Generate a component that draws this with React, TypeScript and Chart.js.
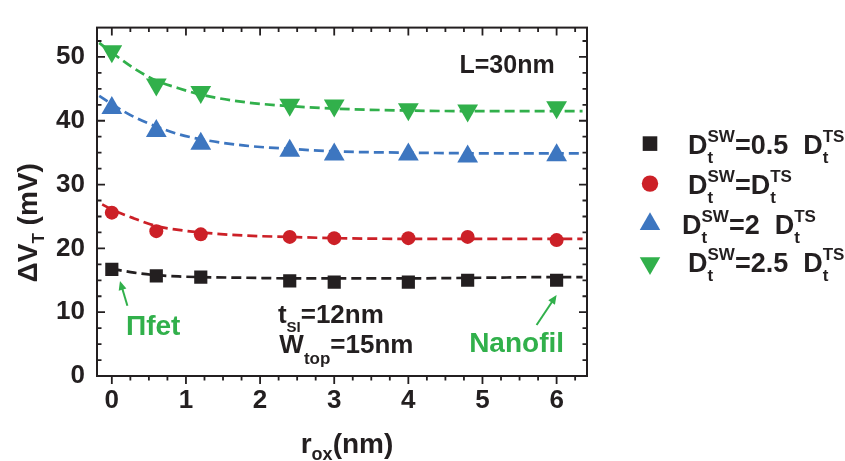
import { useEffect, useRef } from "react";
import { Chart, registerables } from "chart.js";

Chart.register(...registerables);

// ---------- data ----------
const rox = [0, 0.6, 1.2, 2.4, 3, 4, 4.8, 6];
const dvt05 = [16.7, 15.7, 15.5, 14.9, 14.7, 14.7, 15.0, 15.0];
const dvt1 = [25.6, 22.7, 22.2, 21.8, 21.6, 21.6, 21.8, 21.3];
const dvt2 = [42.0, 38.4, 36.4, 35.3, 34.7, 34.7, 34.4, 34.6];
const dvt25 = [50.9, 45.7, 44.5, 42.5, 42.4, 41.8, 41.6, 42.1];

// fitted (dashed) curves
const fitX05 = [0, 0.3, 0.6, 0.9, 1.2, 1.8, 2.4, 3, 4, 5, 6, 6.35];
const fitY05 = [16.8, 16.2, 15.8, 15.6, 15.5, 15.4, 15.3, 15.3, 15.3, 15.4, 15.5, 15.5];
const fitX1 = [-0.13, 0, 0.3, 0.6, 0.9, 1.2, 1.8, 2.4, 3, 4, 5, 6, 6.35];
const fitY1 = [26.9, 26.1, 24.7, 23.5, 22.9, 22.5, 22.0, 21.8, 21.6, 21.5, 21.5, 21.5, 21.5];
const fitX2 = [-0.17, 0, 0.3, 0.6, 0.9, 1.2, 1.8, 2.4, 3, 4, 5, 6, 6.35];
const fitY2 = [43.9, 42.6, 40.6, 39.1, 37.9, 37.1, 36.1, 35.6, 35.2, 35.0, 34.9, 34.9, 34.9];
const fitX25 = [-0.17, 0, 0.3, 0.6, 0.9, 1.2, 1.8, 2.4, 3, 4, 5, 6, 6.35];
const fitY25 = [52.2, 50.7, 48.2, 46.3, 45.1, 44.1, 42.9, 42.3, 41.9, 41.6, 41.5, 41.5, 41.5];

// axis ranges / tick steps
const X_MIN = -0.2;
const X_MAX = 6.41;
const Y_MIN = 0;
const Y_MAX = 54.6;
const X_STEP = 1;
const Y_STEP = 10;
const X_MINOR = 0.25;
const Y_MINOR = 2.5;

// legend label middle parts
const legendValues = ["=0.5  ", "=", "=2  ", "=2.5  "];

// ---------- styles ----------
const FONT = '"Liberation Sans", Arial, Helvetica, sans-serif';
const INK = "#231f20";
const BLACK = "#231f20";
const RED = "#cc2027";
const BLUE = "#3d76c0";
const GREEN = "#31b04b";

const zip = (xs: number[], ys: number[]) => xs.map((x, i) => ({ x, y: ys[i] }));

type Part = { t: string; size: number; dy?: number; stackWith?: { t: string; size: number; dy: number } };

function drawRich(ctx: CanvasRenderingContext2D, x: number, y: number, parts: Part[], color: string) {
  let cx = x;
  ctx.fillStyle = color;
  ctx.textBaseline = "alphabetic";
  ctx.textAlign = "left";
  for (const p of parts) {
    ctx.font = `bold ${p.size}px ${FONT}`;
    ctx.fillText(p.t, cx, y + (p.dy || 0));
    let w = ctx.measureText(p.t).width;
    if (p.stackWith) {
      ctx.font = `bold ${p.stackWith.size}px ${FONT}`;
      ctx.fillText(p.stackWith.t, cx, y + p.stackWith.dy);
      w = Math.max(w, ctx.measureText(p.stackWith.t).width);
    }
    cx += w;
  }
  return cx - x;
}

function richWidth(ctx: CanvasRenderingContext2D, parts: Part[]) {
  let w = 0;
  for (const p of parts) {
    ctx.font = `bold ${p.size}px ${FONT}`;
    let pw = ctx.measureText(p.t).width;
    if (p.stackWith) {
      ctx.font = `bold ${p.stackWith.size}px ${FONT}`;
      pw = Math.max(pw, ctx.measureText(p.stackWith.t).width);
    }
    w += pw;
  }
  return w;
}

function drawMarker(ctx: CanvasRenderingContext2D, kind: string, x: number, y: number, color: string) {
  ctx.fillStyle = color;
  ctx.beginPath();
  if (kind === "rect") {
    const s = 7.3;
    ctx.rect(x - s, y - s, 2 * s, 2 * s);
  } else if (kind === "circle") {
    ctx.arc(x, y, 8.2, 0, Math.PI * 2);
  } else if (kind === "up") {
    const r = 11.8;
    ctx.moveTo(x, y - r);
    ctx.lineTo(x + r * Math.sin(Math.PI / 3), y + r / 2);
    ctx.lineTo(x - r * Math.sin(Math.PI / 3), y + r / 2);
  } else {
    const r = 11.8;
    ctx.moveTo(x, y + r);
    ctx.lineTo(x + r * Math.sin(Math.PI / 3), y - r / 2);
    ctx.lineTo(x - r * Math.sin(Math.PI / 3), y - r / 2);
  }
  ctx.closePath();
  ctx.fill();
}

function arrow(ctx: CanvasRenderingContext2D, x0: number, y0: number, x1: number, y1: number, color: string) {
  const ang = Math.atan2(y1 - y0, x1 - x0);
  const hl = 9;
  const hw = 4;
  ctx.strokeStyle = color;
  ctx.fillStyle = color;
  ctx.lineWidth = 2;
  ctx.beginPath();
  ctx.moveTo(x0, y0);
  ctx.lineTo(x1 - Math.cos(ang) * hl * 0.8, y1 - Math.sin(ang) * hl * 0.8);
  ctx.stroke();
  ctx.beginPath();
  ctx.moveTo(x1, y1);
  ctx.lineTo(x1 - Math.cos(ang) * hl - Math.sin(ang) * hw, y1 - Math.sin(ang) * hl + Math.cos(ang) * hw);
  ctx.lineTo(x1 - Math.cos(ang) * hl + Math.sin(ang) * hw, y1 - Math.sin(ang) * hl - Math.cos(ang) * hw);
  ctx.closePath();
  ctx.fill();
}

const decor = {
  id: "decor",
  afterDraw(chart: any) {
    const { ctx, chartArea: a, scales } = chart;
    const xs = scales.x;
    const ys = scales.y;
    ctx.save();

    // frame
    ctx.strokeStyle = INK;
    ctx.lineWidth = 2;
    ctx.strokeRect(a.left, a.top, a.right - a.left, a.bottom - a.top);

    // x ticks: outward at bottom, inward at top
    ctx.lineWidth = 1.8;
    ctx.beginPath();
    for (let i = Math.ceil(X_MIN / X_MINOR); i * X_MINOR <= X_MAX + 1e-9; i++) {
      const v = i * X_MINOR;
      const major = Math.abs(v / X_STEP - Math.round(v / X_STEP)) < 1e-6;
      const len = major ? 8 : 4.5;
      const px = xs.getPixelForValue(v);
      ctx.moveTo(px, a.bottom);
      ctx.lineTo(px, a.bottom + len);
      ctx.moveTo(px, a.top);
      ctx.lineTo(px, a.top + len);
    }
    // y ticks: inward both sides
    for (let i = Math.ceil(Y_MIN / Y_MINOR); i * Y_MINOR <= Y_MAX + 1e-9; i++) {
      const v = i * Y_MINOR;
      const major = Math.abs(v / Y_STEP - Math.round(v / Y_STEP)) < 1e-6;
      const len = major ? 8 : 4.5;
      const py = ys.getPixelForValue(v);
      ctx.moveTo(a.left, py);
      ctx.lineTo(a.left + len, py);
      ctx.moveTo(a.right, py);
      ctx.lineTo(a.right - len, py);
    }
    ctx.stroke();

    // axis titles
    const yParts: Part[] = [
      { t: "\u0394V", size: 28 },
      { t: "T", size: 17, dy: 7 },
      { t: " (mV)", size: 28 },
    ];
    const yw = richWidth(ctx, yParts);
    ctx.save();
    ctx.translate(a.left - 60, (a.top + a.bottom) / 2 + 21);
    ctx.rotate(-Math.PI / 2);
    drawRich(ctx, -yw / 2, 0, yParts, INK);
    ctx.restore();

    const xParts: Part[] = [
      { t: "r", size: 28 },
      { t: "ox", size: 18, dy: 7 },
      { t: "(nm)", size: 28 },
    ];
    const xw = richWidth(ctx, xParts);
    drawRich(ctx, (a.left + a.right) / 2 + 5 - xw / 2, a.bottom + 77, xParts, INK);

    // annotations (anchored in data coordinates)
    const P = (x: number, y: number) => [xs.getPixelForValue(x), ys.getPixelForValue(y)];
    let [tx, ty] = P(4.69, 47.5);
    drawRich(ctx, tx, ty, [{ t: "L=30nm", size: 25 }], INK);
    [tx, ty] = P(2.24, 8.27);
    drawRich(ctx, tx, ty, [{ t: "t", size: 26 }, { t: "SI", size: 15, dy: 9 }, { t: "=12nm", size: 26 }], INK);
    [tx, ty] = P(2.26, 3.55);
    drawRich(ctx, tx, ty, [{ t: "W", size: 26 }, { t: "top", size: 17, dy: 11 }, { t: "=15nm", size: 26 }], INK);
    [tx, ty] = P(0.19, 6.5);
    drawRich(ctx, tx, ty, [{ t: "\u03A0fet", size: 28 }], GREEN);
    [tx, ty] = P(4.82, 3.8);
    drawRich(ctx, tx, ty, [{ t: "Nanofil", size: 28 }], GREEN);

    let [ax0, ay0] = P(0.21, 11.0);
    let [ax1, ay1] = P(0.11, 14.9);
    arrow(ctx, ax0, ay0, ax1, ay1, GREEN);
    [ax0, ay0] = P(5.73, 8.0);
    [ax1, ay1] = P(6.0, 12.7);
    arrow(ctx, ax0, ay0, ax1, ay1, GREEN);

    // legend
    const entries = [
      { kind: "rect", color: BLACK, my: 116, ty: 126, tx: 101 },
      { kind: "circle", color: RED, my: 156, ty: 166, tx: 101 },
      { kind: "up", color: BLUE, my: 196.5, ty: 206, tx: 95 },
      { kind: "down", color: GREEN, my: 235.5, ty: 244.5, tx: 101 },
    ];
    entries.forEach((e, i) => {
      drawMarker(ctx, e.kind, a.right + 63, a.top + e.my, e.color);
      const parts: Part[] = [
        { t: "D", size: 27 },
        { t: "t", size: 17, dy: 9, stackWith: { t: "SW", size: 17, dy: -12 } },
        { t: legendValues[i], size: 27 },
        { t: "D", size: 27 },
        { t: "t", size: 17, dy: 9, stackWith: { t: "TS", size: 17, dy: -12 } },
      ];
      drawRich(ctx, a.right + e.tx, a.top + e.ty, parts, INK);
    });

    ctx.restore();
  },
};

export default function App() {
  const ref = useRef<HTMLCanvasElement | null>(null);
  useEffect(() => {
    if (!ref.current) return;
    const dash = [10, 5];
    const line = (xs: number[], ys: number[], color: string) => ({
      type: "line" as const,
      data: zip(xs, ys),
      showLine: true,
      borderColor: color,
      borderWidth: 2.7,
      borderDash: dash,
      pointRadius: 0,
      cubicInterpolationMode: "monotone" as const,
      fill: false,
      order: 2,
    });
    const pts = (ys: number[], color: string, style: string, radius: number, rotation = 0) => ({
      type: "scatter" as const,
      data: zip(rox, ys),
      showLine: false,
      backgroundColor: color,
      borderColor: color,
      borderWidth: 0,
      pointStyle: style,
      pointRadius: radius,
      rotation,
      order: 1,
    });
    const chart = new Chart(ref.current, {
      type: "scatter",
      data: {
        datasets: [
          pts(dvt05, BLACK, "rect", 9.3),
          pts(dvt1, RED, "circle", 7),
          pts(dvt2, BLUE, "triangle", 12),
          pts(dvt25, GREEN, "triangle", 12, 180),
          line(fitX05, fitY05, BLACK),
          line(fitX1, fitY1, RED),
          line(fitX2, fitY2, BLUE),
          line(fitX25, fitY25, GREEN),
        ] as any,
      },
      options: {
        animation: false,
        responsive: false,
        devicePixelRatio: 1,
        layout: { padding: { left: 0, top: 9, right: 258, bottom: 0 } },
        plugins: { legend: { display: false }, tooltip: { enabled: false } },
        scales: {
          x: {
            type: "linear",
            min: X_MIN,
            max: X_MAX,
            grid: { display: false, drawTicks: false },
            border: { display: false },
            ticks: {
              stepSize: X_STEP,
              includeBounds: false,
              padding: 9,
              color: INK,
              font: { family: FONT, size: 26, weight: "bold" },
            },
            afterFit: (s: any) => {
              s.height = 85;
            },
          },
          y: {
            type: "linear",
            min: Y_MIN,
            max: Y_MAX,
            grid: { display: false, drawTicks: false },
            border: { display: false },
            ticks: {
              stepSize: Y_STEP,
              includeBounds: false,
              padding: 12,
              color: INK,
              font: { family: FONT, size: 26, weight: "bold" },
            },
            afterFit: (s: any) => {
              s.width = 97;
            },
          },
        },
      } as any,
      plugins: [decor],
    });
    return () => chart.destroy();
  }, []);
  return (
    <div style={{ position: "fixed", left: 0, top: 0, width: 845, height: 461, background: "#fff" }}>
      <canvas ref={ref} width={845} height={461} style={{ display: "block", width: 845, height: 461 }} />
    </div>
  );
}
